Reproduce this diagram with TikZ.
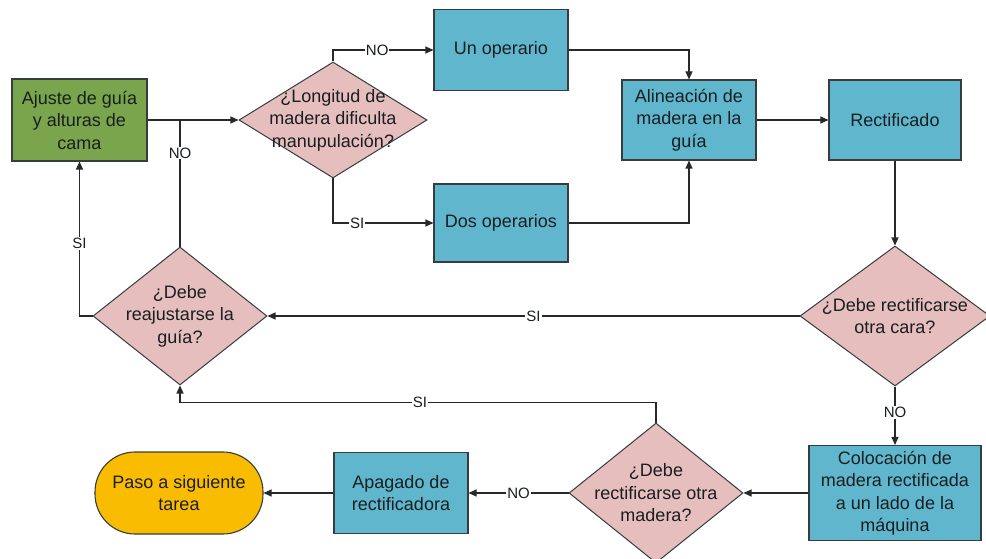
\documentclass[tikz,border=0pt]{standalone}
\usepackage{fontspec}
\setmainfont{Liberation Sans}
\usetikzlibrary{shapes.geometric,arrows.meta}

\definecolor{procblue}{RGB}{96,183,205}
\definecolor{startgreen}{RGB}{122,165,76}
\definecolor{decpink}{RGB}{230,190,190}
\definecolor{endorange}{RGB}{250,188,0}
\definecolor{boxline}{RGB}{55,60,62}
\definecolor{linecol}{RGB}{40,40,40}
\definecolor{txt}{RGB}{25,30,32}

\newcommand{\boxfont}{\fontsize{18}{22.5}\selectfont}
\newcommand{\labfont}{\fontsize{15}{17}\selectfont}

\tikzset{
  procbox/.style={draw=boxline, line width=1.1pt, fill=procblue, minimum width=134pt,
    minimum height=80pt, inner sep=2pt, align=center, font=\boxfont, text=txt},
  dia/.style={diamond, draw=boxline, line width=1pt, fill=decpink, inner sep=0pt},
  dtext/.style={align=center, font=\boxfont, text=txt, inner sep=0pt},
  lab/.style={fill=white, inner sep=1pt, font=\labfont, text=txt},
  link/.style={draw=linecol, line width=1.1pt, -{Triangle[length=8pt,width=7pt]}},
  plainlink/.style={draw=linecol, line width=1.1pt},
}

\begin{document}
\begin{tikzpicture}[x=1pt,y=-1pt]
  \fill[white] (0,0) rectangle (986,559);
  \useasboundingbox (0,0) rectangle (986,559);

  % process steps
  \node[procbox, fill=startgreen, minimum width=135pt, minimum height=82pt] (ajuste) at (79.5,120)
    {Ajuste de guía\\y alturas de\\cama};
  \node[procbox, minimum height=81pt] (uno) at (501,50) {Un operario};
  \node[procbox, minimum height=78pt] (dos) at (501,223) {Dos operarios};
  \node[procbox] (alin) at (689,120) {Alineación de\\madera en la\\guía};
  \node[procbox, minimum width=132pt] (rect) at (895,120) {Rectificado};
  \node[procbox, minimum width=172pt, minimum height=95pt] (coloc) at (895,493)
    {Colocación de\\madera rectificada\\a un lado de la\\máquina};
  \node[procbox, minimum height=81pt] (apag) at (401,493) {Apagado de\\rectificadora};
  \node[procbox, fill=endorange, rounded corners=40pt, minimum width=168pt, minimum height=82pt]
    (paso) at (179,493) {Paso a siguiente\\tarea};

  % decisions
  \node[dia, minimum width=188pt, minimum height=116pt,
    label={[dtext]center:{¿Longitud de\\madera dificulta\\manupulación?}}] (d1) at (333,120) {};
  \node[dia, minimum width=190pt, minimum height=140pt,
    label={[dtext]center:{¿Debe rectificarse\\otra cara?}}] (d2) at (895,316) {};
  \node[dia, minimum width=174pt, minimum height=138pt,
    label={[dtext]center:{¿Debe\\reajustarse la\\guía?}}] (d3) at (180,316) {};
  \node[dia, minimum width=174pt, minimum height=140pt,
    label={[dtext]center:{¿Debe\\rectificarse otra\\madera?}}] (d4) at (656,493) {};

  % connectors
  \draw[link] (ajuste) -- (d1);
  \draw[link] (d1.north) |- node[lab, pos=0.72] {NO} (uno.west);
  \draw[link] (d1.south) |- node[lab, pos=0.62] {SI} (dos.west);
  \draw[link] (uno.east) -| (alin.north);
  \draw[link] (dos.east) -| (alin.south);
  \draw[link] (alin) -- (rect);
  \draw[link] (rect) -- (d2);
  \draw[link] (d2.west) -- node[lab] {SI} (d3.east);
  \draw[link] (d2.south) -- node[lab, pos=0.45] {NO} (coloc.north);
  \draw[link] (coloc) -- (d4);
  \draw[link] (d4.north) -- ++(0,-20) -| node[lab, pos=0.248] {SI} (d3.south);
  \draw[link] (d4.west) -- node[lab] {NO} (apag.east);
  \draw[link] (apag) -- (paso);
  \draw[link] (d3.west) -| node[lab, pos=0.735] {SI} (ajuste.south);
  \draw[plainlink] (d3.north) -- node[lab, pos=0.74] {NO} (d3.north |- ajuste.east);
\end{tikzpicture}
\end{document}
